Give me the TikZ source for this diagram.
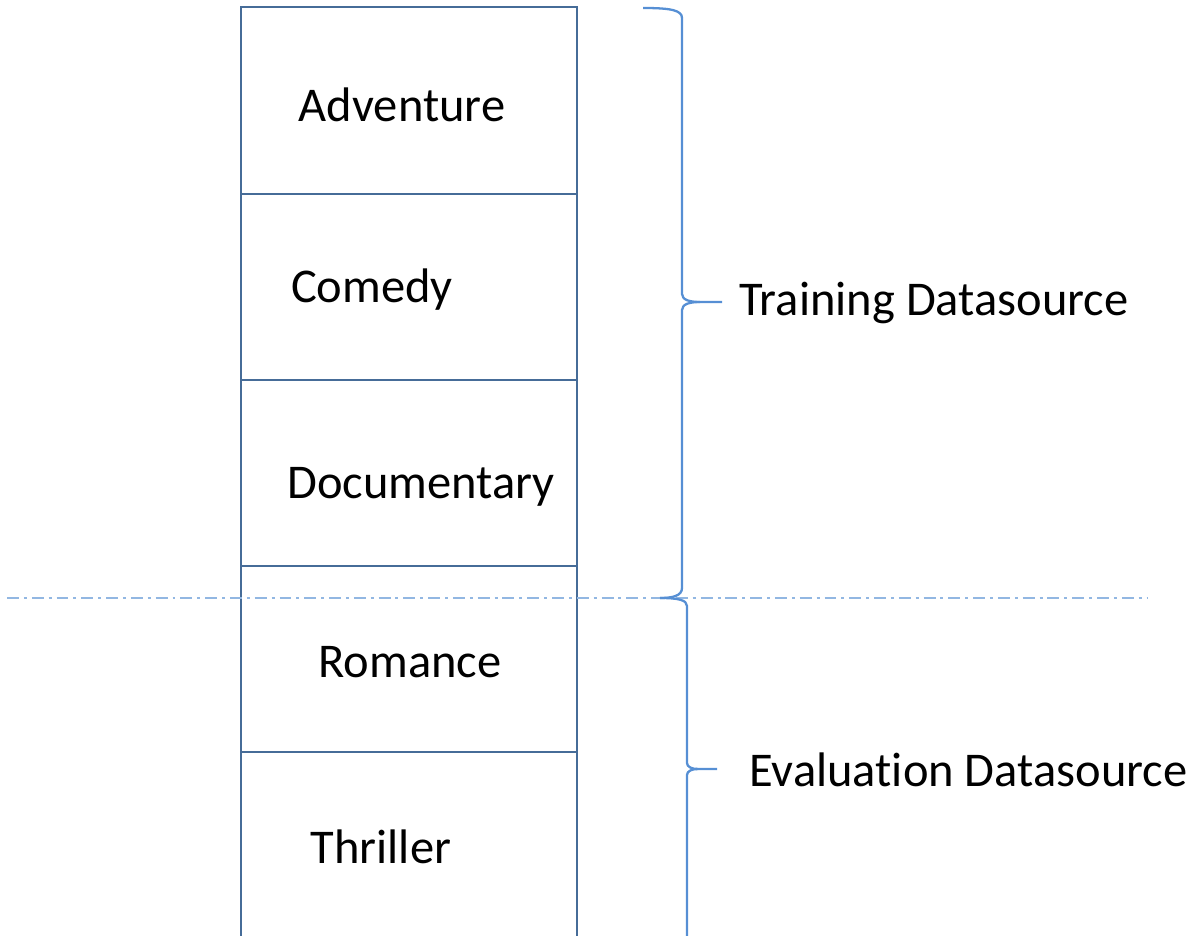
\documentclass[tikz,border=0pt]{standalone}
\usepackage{fontspec}
\setmainfont{Carlito}[Ligatures=NoCommon]
\usepackage{tikz}

\definecolor{boxline}{RGB}{70,108,152}
\definecolor{braceline}{RGB}{86,143,212}
\definecolor{splitline}{RGB}{146,183,226}

\begin{document}
\begin{tikzpicture}[x=0.02cm, y=-0.02cm,
	genre/.style={font=\fontsize{27.6}{32}\selectfont, text=black, inner sep=0pt},
	side/.style={font=\fontsize{27.6}{32}\selectfont, text=black, inner sep=0pt, anchor=west},
	stack/.style={draw=boxline, line width=1.4pt},
	curly/.style={draw=braceline, line width=1.3pt, line join=round}]
	\useasboundingbox (0,0) rectangle (1187,936);

	% Draw the genre stack
	\draw[stack] (241,936) -- (241,7) -- (577,7) -- (577,936);
	\foreach \y in {194,380,566,752}
		\draw[stack] (241,\y) -- (577,\y);

	% Genre labels
	\node[genre] (adventure) at (402,105) {Adventure};
	\node[genre] (comedy) at (372,290) {Comedy};
	\node[genre] (documentary) at (421,487) {Documentary};
	\node[genre] (romance) at (410,662) {Romance};
	\node[genre] (thriller) at (381,847) {Thriller};

	% Split between training and evaluation
	\draw[splitline, line width=1pt, dash pattern=on 6.8pt off 2.8pt on 1.7pt off 2.8pt] (7,598) -- (1148,598);

	% Braces
	%Training
	\coordinate (traintip) at (722,302);
	\draw[curly] (643,8) .. controls (670,8) and (682,10) .. (682,18) -- (682,294)
		.. controls (682,300) and (690,302) .. (700,302) -- (traintip);
	\draw[curly] (700,302) .. controls (690,302) and (682,304) .. (682,310) -- (682,588)
		.. controls (682,596) and (672,598) .. (660,598);
	%Evaluation
	\coordinate (evaltip) at (717,769);
	\draw[curly] (660,598) .. controls (678,598) and (687,600) .. (687,606) -- (687,763)
		.. controls (687,767) and (692,769) .. (698,769) -- (evaltip);
	\draw[curly] (698,769) .. controls (692,769) and (687,771) .. (687,775) -- (687,936);

	% Datasource labels
	\node[side] (training) at (739,303) {Training Datasource};
	\node[side] (evaluation) at (749,770) {Evaluation Datasource};

\end{tikzpicture}
\end{document}
